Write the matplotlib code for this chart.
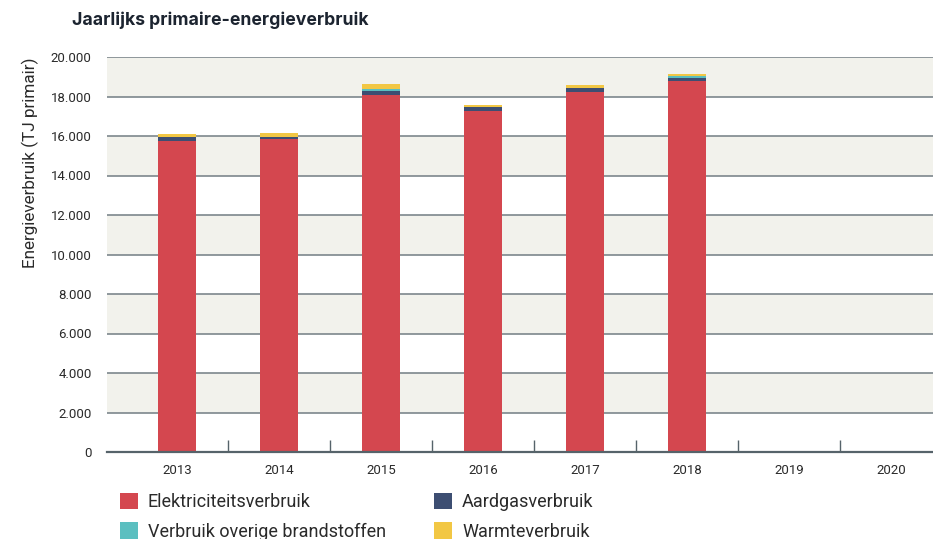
import matplotlib
matplotlib.use("Agg")
import matplotlib.pyplot as plt
from matplotlib.patches import Patch
import numpy as np

years = ["2013", "2014", "2015", "2016", "2017", "2018", "2019", "2020"]
elektriciteit = [15750, 15850, 18080, 17270, 18230, 18785, 0, 0]
aardgas = [185, 115, 200, 200, 200, 150, 0, 0]
overige = [0, 0, 100, 0, 0, 100, 0, 0]
warmte = [165, 185, 255, 100, 150, 100, 0, 0]

series_names = ["Elektriciteitsverbruik", "Aardgasverbruik",
                "Verbruik overige brandstoffen", "Warmteverbruik"]
colors = ["#d4474f", "#3d4e72", "#5bbfc0", "#f2c744"]

yticks = list(range(0, 20001, 2000))
ytick_labels = ["0" if v == 0 else f"{v:,}".replace(",", ".") for v in yticks]

W, H = 933, 539
fig = plt.figure(figsize=(W / 100, H / 100), dpi=100)
ax = fig.add_axes([107 / W, (H - 452) / H, (W - 107) / W, (452 - 57) / H])

# background bands
for i in range(len(yticks) - 1):
    if i % 2 == 1:
        ax.axhspan(yticks[i], yticks[i + 1], color="#f2f2ec", lw=0, zorder=0)
for v in yticks[1:]:
    ax.axhline(v, color="#7d878c", lw=1.2, zorder=1)

x = np.arange(len(years))
bottom = np.zeros(len(years))
for name, vals, c in zip(series_names, [elektriciteit, aardgas, overige, warmte], colors):
    vals = np.array(vals, dtype=float)
    ax.bar(x, vals, width=0.37, bottom=bottom, color=c, lw=0, zorder=2)
    bottom += vals

ax.set_xlim(-0.686, 7.41)
ax.set_ylim(0, 20000)
ax.set_xticks(x)
ax.set_xticklabels(years)
ax.set_xticks(x[:-1] + 0.5, minor=True)
ax.set_yticks(yticks)
ax.set_yticklabels(ytick_labels)

for s in ["top", "right", "left"]:
    ax.spines[s].set_visible(False)
ax.spines["bottom"].set_color("#56636a")
ax.spines["bottom"].set_linewidth(1.6)
ax.spines["bottom"].set_zorder(3)

ax.tick_params(axis="x", which="major", length=0, pad=9, labelsize=9.5, labelcolor="#2a2a2a")
ax.tick_params(axis="x", which="minor", direction="in", length=9, width=1, color="#56636a")
ax.tick_params(axis="y", length=0, pad=11, labelsize=9.5, labelcolor="#2a2a2a")
for lab in ax.get_xticklabels() + ax.get_yticklabels():
    lab.set_fontfamily("Roboto")

fig.text(72 / W, 1 - 20 / H, "Jaarlijks primaire-energieverbruik", fontsize=12.7,
         fontweight="bold", family="Inter", color="#1c2430", va="center", ha="left")
fig.text(30 / W, 1 - 163 / H, "Energieverbruik (TJ primair)", fontsize=12.3,
         family="Roboto", color="#2a2a2a", rotation=90, va="center", ha="center")

handles = [Patch(color=c, lw=0) for c in colors]
leg_kw = dict(frameon=False, handlelength=1.0, handleheight=1.0,
              handletextpad=0.55, labelspacing=0.62, borderpad=0, borderaxespad=0,
              prop={"family": "Roboto", "size": 13})
l1 = fig.legend([handles[0], handles[2]], [series_names[0], series_names[2]],
                loc="upper left", bbox_to_anchor=(120 / W, 1 - 493 / H), **leg_kw)
l2 = fig.legend([handles[1], handles[3]], [series_names[1], series_names[3]],
                loc="upper left", bbox_to_anchor=(434 / W, 1 - 493 / H), **leg_kw)
for leg in (l1, l2):
    for t in leg.get_texts():
        t.set_color("#2a2a2a")

fig.savefig("out.png", dpi=100)
